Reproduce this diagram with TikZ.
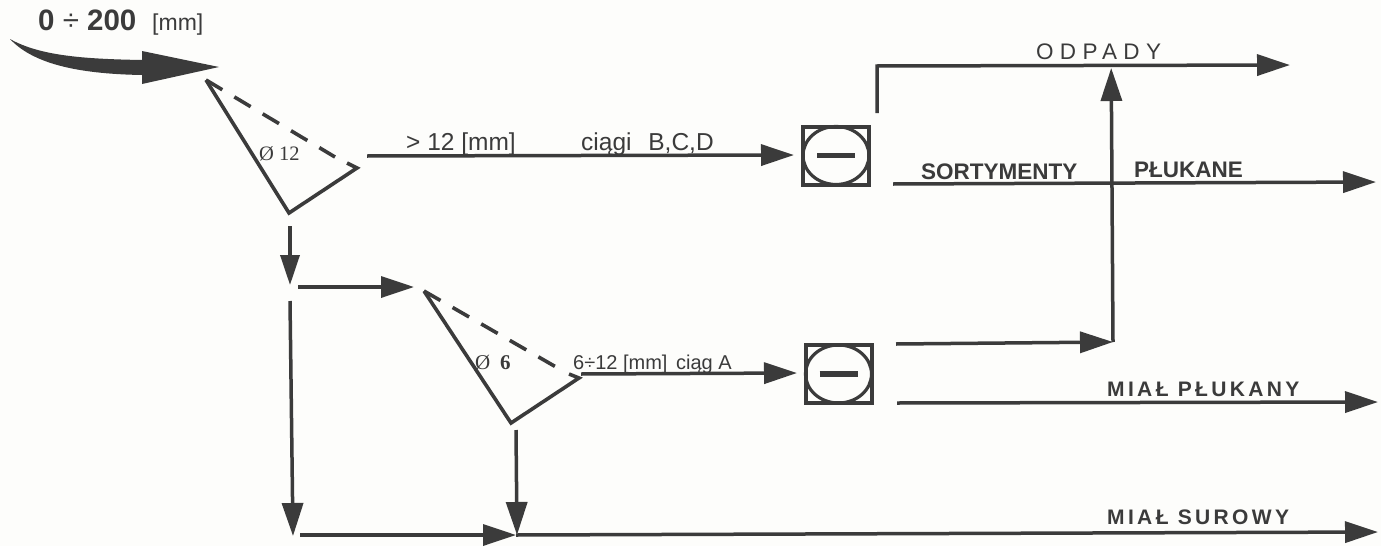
\documentclass[tikz,border=0pt]{standalone}
\usepackage{fontspec}
\setmainfont{Liberation Sans}
\newfontfamily\serifface{Liberation Serif}
\usetikzlibrary{arrows.meta,shapes.geometric}
\definecolor{ink}{HTML}{3B3B3B}
\definecolor{paper}{HTML}{FDFDFB}
\tikzset{
  flow/.style={draw=ink,line width=3.5pt,-{Triangle[length=33pt,width=21pt]}},
  flowsmall/.style={draw=ink,line width=3.5pt,-{Triangle[length=30pt,width=19pt]}},
  sieve/.style={draw=ink,line width=3.6pt,line join=miter},
  sievedash/.style={draw=ink,line width=3.6pt,dash pattern=on 19pt off 14pt},
  washer/.style={draw=ink,line width=4pt,rectangle,minimum width=66pt,minimum height=58pt,inner sep=0pt},
  drum/.style={draw=ink,line width=3.2pt,ellipse,minimum width=66pt,minimum height=58pt,inner sep=0pt},
  minusbar/.style={draw=ink,line width=5.5pt},
  lab/.style={anchor=base west,inner sep=0pt,text=ink},
  labA/.style={lab,font=\fontsize{24.5}{28}\selectfont},
  labB/.style={lab,font=\fontsize{20}{24}\selectfont},
  labC/.style={lab,font=\fontsize{22.5}{26}\selectfont\bfseries},
  labS/.style={lab,font=\fontsize{21}{26}\selectfont\bfseries\addfontfeature{LetterSpace=16}},
  labO/.style={lab,font=\fontsize{22.5}{26}\selectfont\addfontfeature{LetterSpace=28}},
}
\begin{document}
\begin{tikzpicture}[x=1pt,y=-1pt]
\useasboundingbox[fill=paper] (0,0) rectangle (1381,546);
% feed arrow
\fill[ink] (10,39) .. controls (40,56) and (85,59) .. (142,60) -- (142,51) -- (219,67) -- (142,84) -- (142,75)
  .. controls (85,74) and (35,66) .. (10,39) -- cycle;
\node[lab,font=\fontsize{29.5}{34}\selectfont\bfseries] (feed) at (38,30) {0 {\mdseries÷} 200};
\node[lab,font=\fontsize{23}{26}\selectfont] (unit) at (152,30) {[mm]};
% screen 1
\coordinate (s1a) at (206,80);
\coordinate (s1b) at (289,213);
\coordinate (s1c) at (357,168);
\coordinate (s1d) at (335,157);
\coordinate (s1e) at (347,163);
\draw[sieve] (s1e) -- (s1c) -- (s1b) -- (s1a);
\draw[sievedash] (s1a) -- (s1d);
\node[lab,font=\fontsize{20.5}{24}\selectfont\serifface] (d12) at (259,160) {Ø 12};
% screen 2
\coordinate (s2a) at (424,291);
\coordinate (s2b) at (511,423);
\coordinate (s2c) at (579,378);
\coordinate (s2d) at (556,367);
\coordinate (s2e) at (569,374);
\draw[sieve] (s2e) -- (s2c) -- (s2b) -- (s2a);
\draw[sievedash] (s2a) -- (s2d);
\node[lab,font=\fontsize{21}{24}\selectfont\serifface] (d6a) at (475,369) {Ø};
\node[lab,font=\fontsize{21}{24}\selectfont\serifface\bfseries] (d6b) at (500,369) {6};
% washers
\node[washer] (w1) at (836,155.5) {};
\node[drum] (e1) at (w1.center) {};
\draw[minusbar] ([xshift=-19pt]w1.center) -- ([xshift=19pt]w1.center);
\node[washer] (w2) at (838.5,374) {};
\node[drum] (e2) at (w2.center) {};
\draw[minusbar] ([xshift=-19pt]w2.center) -- ([xshift=19pt]w2.center);
% flows
\coordinate (a1) at (367,156);
\coordinate (a1e) at (794,155);
\draw[flow] (a1) -- (a1e);
\coordinate (a2) at (581,374);
\coordinate (a2e) at (797,373);
\draw[flow] (a2) -- (a2e);
\coordinate (o1) at (877,113);
\coordinate (o2) at (877,66);
\coordinate (o3) at (1290,65);
\draw[flow] (o1) -- (o2) -- (o3);
\coordinate (so1) at (893,184);
\coordinate (so2) at (1376,182);
\draw[flow] (so1) -- (so2);
\coordinate (r1) at (896,344);
\coordinate (r2) at (1113,342);
\coordinate (r3) at (1111.2,68);
\draw[flow] (r1) -- (r2);
\draw[flow] (r2) -- (r3);
\coordinate (mp1) at (897,403);
\coordinate (mp2) at (1378,402);
\draw[flow] (mp1) -- (mp2);
\coordinate (d1) at (290,226);
\coordinate (d2) at (290,285);
\draw[flowsmall] (d1) -- (d2);
\coordinate (h1) at (298,287);
\coordinate (h2) at (414,287);
\draw[flow] (h1) -- (h2);
\coordinate (v1) at (290,301);
\coordinate (v2) at (293,536);
\draw[flow] (v1) -- (v2);
\coordinate (v3) at (516,430);
\coordinate (v4) at (517,535);
\draw[flow] (v3) -- (v4);
\coordinate (b1) at (300,535);
\coordinate (b2) at (516,535);
\draw[flow] (b1) -- (b2);
\coordinate (b3) at (1378,532);
\draw[flow] (b2) -- (b3);
% labels
\node[labA] (t1) at (406,150) {> 12 [mm]};
\node[labA] (t2) at (581,150) {ciągi\hspace{10pt} B,C,D};
\node[labB] (t3) at (573,369) {6÷12 [mm]\hspace{3pt} ciąg A};
\node[labC] (t4) at (921,179) {SORTYMENTY};
\node[labC] (t5) at (1134,177) {PŁUKANE};
\node[labO] (t6) at (1036,59) {ODPADY};
\node[labS] (t7) at (1107,396) {MIAŁ PŁUKANY};
\node[labS] (t8) at (1107,524) {MIAŁ SUROWY};
\end{tikzpicture}
\end{document}
